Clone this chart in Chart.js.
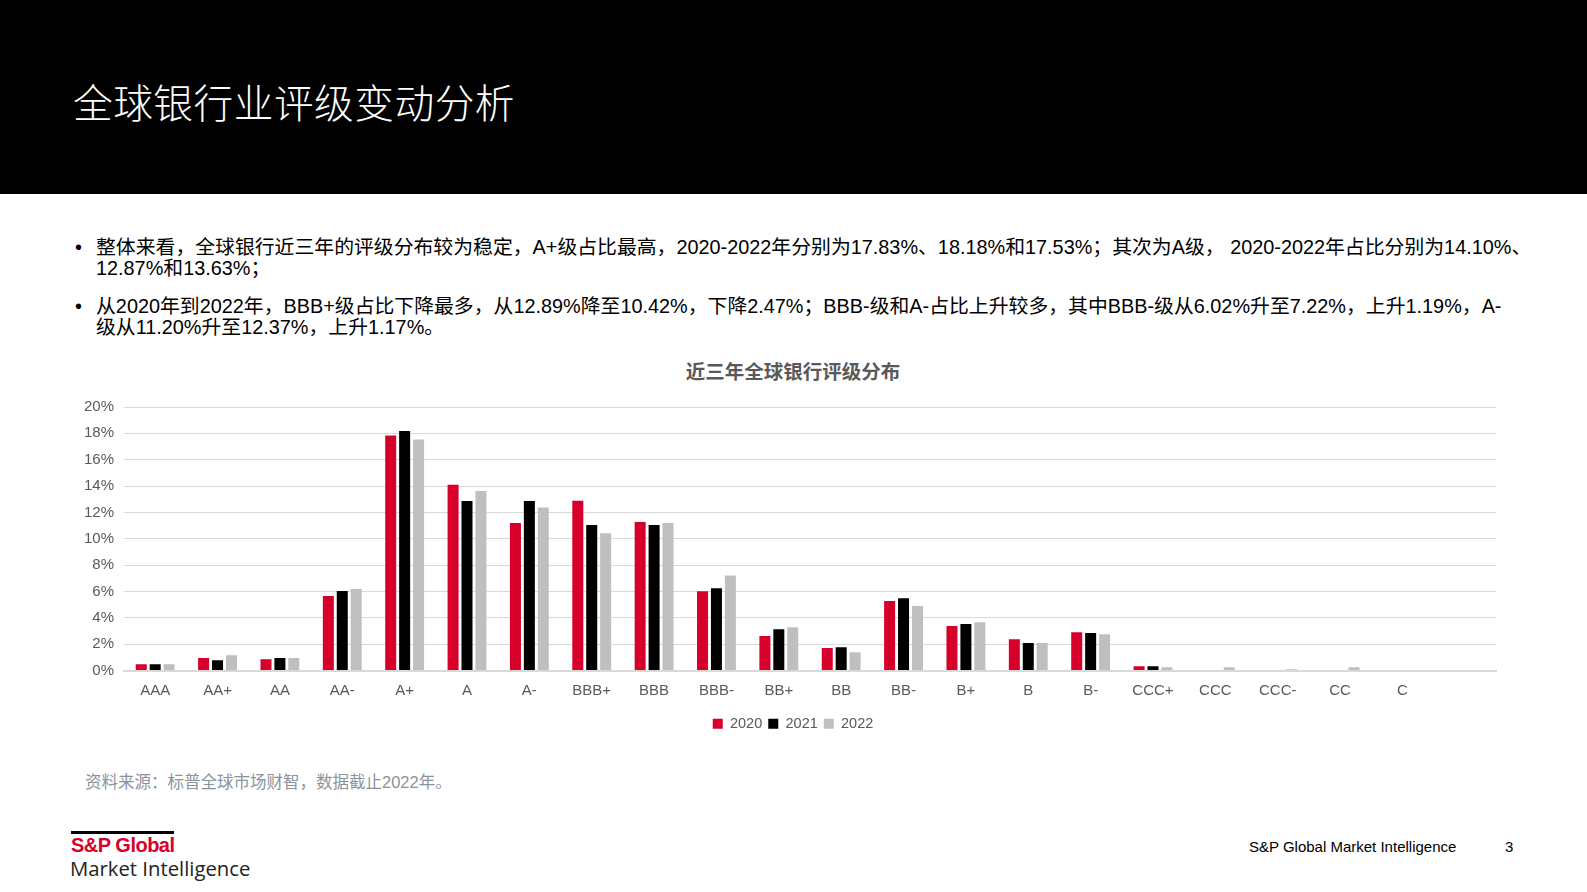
<!DOCTYPE html>
<html>
<head>
<meta charset="utf-8">
<script src="https://cdn.jsdelivr.net/npm/chart.js@4"></script>
<style>
  body { margin:0; width:1587px; height:892px; background:#fff; position:relative; overflow:hidden;
         font-family:"Liberation Sans", Arial, "Noto Sans CJK SC", sans-serif; }
  #header { position:absolute; left:0; top:0; width:1587px; height:194px; background:#000; }
  #title { position:absolute; left:73px; top:72px; color:#fff; font-size:39.7px; font-weight:300;
           font-family:"Noto Sans CJK SC", sans-serif; letter-spacing:0.5px; }
  .bullet { position:absolute; left:75px; font-size:19.85px; line-height:21.4px; color:#000; }
  .bullet span.dot { position:absolute; left:0; }
  .bullet div.txt { margin-left:21px; white-space:nowrap; }
  #chartTitle { position:absolute; left:593px; width:400px; top:356px; text-align:center;
                font-size:19.5px; font-weight:bold; color:#595959; }
  #chartBox { position:absolute; left:60px; top:388px; width:1466px; height:353px; }
  #source { position:absolute; left:85px; top:769px; font-size:16.5px; color:#8a939e; }
  #logoLine { position:absolute; left:71px; top:831px; width:103px; height:3px; background:#000; }
  #logo1 { position:absolute; left:71px; top:834px; font-size:20px; font-weight:bold; color:#d6002a; letter-spacing:-0.5px; }
  #logo2 { position:absolute; left:70px; top:854px; font-size:20.3px; color:#222; font-family:"Open Sans", sans-serif; }
  #footer { position:absolute; left:1249px; top:838px; font-size:15px; color:#000; }
  #page { position:absolute; left:1505px; top:838px; font-size:15px; color:#000; }
</style>
</head>
<body>
<div id="header"></div>
<div id="title">全球银行业评级变动分析</div>

<div class="bullet" style="top:237px;"><span class="dot">•</span>
  <div class="txt">整体来看，全球银行近三年的评级分布较为稳定，A+级占比最高，2020-2022年分别为17.83%、18.18%和17.53%；其次为A级， 2020-2022年占比分别为14.10%、<br>12.87%和13.63%；</div>
</div>
<div class="bullet" style="top:296px;"><span class="dot">•</span>
  <div class="txt">从2020年到2022年，BBB+级占比下降最多，从12.89%降至10.42%，下降2.47%；BBB-级和A-占比上升较多，其中BBB-级从6.02%升至7.22%，上升1.19%，A-<br>级从11.20%升至12.37%，上升1.17%。</div>
</div>

<div id="chartTitle">近三年全球银行评级分布</div>
<div id="chartBox"><canvas id="myChart"></canvas></div>

<div id="source">资料来源：标普全球市场财智，数据截止2022年。</div>
<div id="logoLine"></div>
<div id="logo1">S&amp;P Global</div>
<div id="logo2">Market Intelligence</div>
<div id="footer">S&amp;P Global Market Intelligence</div>
<div id="page">3</div>

<script>
const ratings = ['AAA','AA+','AA','AA-','A+','A','A-','BBB+','BBB','BBB-','BB+','BB','BB-','B+','B','B-','CCC+','CCC','CCC-','CC','C',''];
const years = ['2020','2021','2022'];
const share2020 = [0.48,0.94,0.86,5.65,17.83,14.10,11.20,12.89,11.27,6.02,2.61,1.70,5.27,3.37,2.38,2.91,0.33,0,0,0,0,null];
const share2021 = [0.48,0.78,0.94,6.03,18.18,12.87,12.86,11.04,11.04,6.25,3.14,1.77,5.49,3.52,2.08,2.84,0.33,0,0,0,0,null];
const share2022 = [0.48,1.16,0.94,6.18,17.53,13.63,12.37,10.42,11.19,7.22,3.29,1.39,4.89,3.67,2.08,2.76,0.25,0.25,0.10,0.25,0,null];
const yTicks = [0,2,4,6,8,10,12,14,16,18,20];

const colors = ['#d6002a','#000000','#bfbfbf'];
const allData = [share2020, share2021, share2022];

const datasets = years.map((y, i) => ({
    label: y,
    data: allData[i],
    backgroundColor: colors[i],
    borderWidth: 0,
    categoryPercentage: 0.67,
    barPercentage: 0.79
}));

const tickFont = { family: '"Liberation Sans", Arial, sans-serif', size: 15 };

new Chart(document.getElementById('myChart').getContext('2d'), {
    type: 'bar',
    data: { labels: ratings, datasets: datasets },
    options: {
        responsive: true,
        maintainAspectRatio: false,
        animation: false,
        layout: { padding: { left: 0, right: 0, top: 8, bottom: 0 } },
        plugins: {
            tooltip: { enabled: false },
            legend: {
                position: 'bottom',
                labels: {
                    boxWidth: 10, boxHeight: 10, padding: 6,
                    color: '#595959',
                    font: { family: '"Liberation Sans", Arial, sans-serif', size: 14.5 }
                }
            }
        },
        scales: {
            x: {
                grid: { display: false, drawTicks: false },
                border: { display: true, color: '#d9d9d9', width: 2 },
                ticks: { color: '#595959', font: tickFont, padding: 11, maxRotation: 0, autoSkip: false }
            },
            y: {
                min: 0, max: 20,
                afterFit: function(scale){ scale.width = 64; },
                afterBuildTicks: function(scale){ scale.ticks = yTicks.map(v => ({ value: v })); },
                grid: { color: '#d9d9d9', lineWidth: 1, drawTicks: false },
                border: { display: false },
                ticks: { color: '#595959', font: tickFont, padding: 10,
                         callback: function(v){ return v + '%'; } }
            },
            yRight: {
                position: 'right',
                min: 0, max: 20,
                afterFit: function(scale){ scale.width = 30; },
                grid: { display: false, drawTicks: false },
                border: { display: false },
                ticks: { display: false }
            }
        }
    }
});
</script>
</body>
</html>
